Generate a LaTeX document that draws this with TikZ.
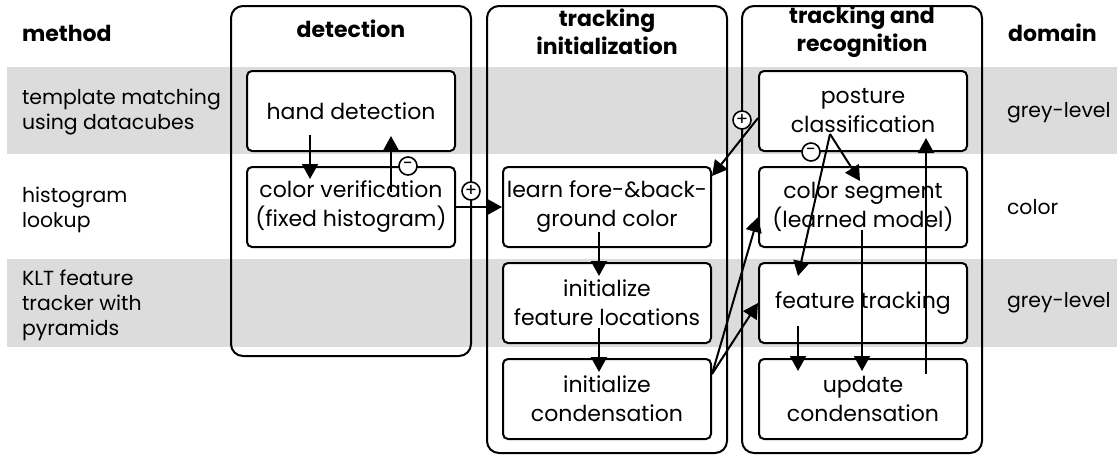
\documentclass[tikz,border=0pt]{standalone}
\usepackage{fontspec}
\setmainfont{Poppins}
\usetikzlibrary{arrows.meta}
\definecolor{bandgrey}{RGB}{220,220,220}

\tikzset{
    stage/.style={draw,line width=1pt,rounded corners=2.5pt,fill=white,
        minimum width=104pt,minimum height=40pt,inner sep=0pt,align=center,
        font=\fontsize{11}{14.5}\selectfont},
    column/.style={draw,line width=1pt,rounded corners=6pt},
    head/.style={align=center,font=\fontsize{11}{14}\selectfont\bfseries},
    side/.style={anchor=west,align=left,font=\fontsize{10.2}{12.5}\selectfont},
    sign/.style={circle,draw,fill=white,line width=0.8pt,inner sep=0pt,
        minimum size=9pt,font=\fontsize{9}{9}\selectfont},
    flow/.style={line width=1pt,-{Triangle[length=7.5pt,width=8pt]}},
}

\begin{document}
\begin{tikzpicture}[x=0.5pt,y=-0.5pt]
    \useasboundingbox (0,0) rectangle (1117,455);

    % Draw the grey bands
    \fill [bandgrey] (7,67) rectangle (1117,154);
    \fill [bandgrey] (7,259) rectangle (1117,347);

    % Draw the columns
    \draw [column] (231,6) rectangle (471,356);
    \draw [column] (487,6) rectangle (727,453);
    \draw [column] (742,6) rectangle (982,453);

    % Headers
    \node [head,anchor=west] (method) at (15,33) {method};
    \node [head] (detect) at (351,29) {detection};
    \node [head] (trinit) at (607,32) {tracking\\initialization};
    \node [head] (trrec) at (862,32) {tracking and\\recognition};
    \node [head,anchor=west] (domain) at (1001,33) {domain};

    % Methods and domains
    \node [side] (templ) at (15,112) {template matching\\using datacubes};
    \node [side] (histo) at (15,210) {histogram\\lookup};
    \node [side] (klt) at (15,305) {KLT feature\\tracker with\\pyramids};
    \node [side] (greya) at (1000,113) {grey-level};
    \node [side] (colr) at (1000,207) {color};
    \node [side] (greyb) at (1000,303) {grey-level};

    % Draw the stages
    \node [stage] (hand) at (351,111) {hand detection};
    \node [stage] (colver) at (351,207) {color verification\\(fixed histogram)};
    \node [stage] (learn) at (607,207) {learn fore-\&back-\\ground color};
    \node [stage] (initfeat) at (607,303) {initialize\\feature locations};
    \node [stage] (initcond) at (607,399) {initialize\\condensation};
    \node [stage] (posture) at (863,111) {posture\\classification};
    \node [stage] (colseg) at (863,207) {color segment\\(learned model)};
    \node [stage] (feattrack) at (863,303) {feature tracking};
    \node [stage] (updcond) at (863,399) {update\\condensation};

    % Draw the flow
    \draw [flow] ([shift={(-41,-17)}]hand.south) -- ([shift={(-41,13)}]colver.north);
    \draw [flow] ([shift={(40,26)}]colver.north) -- ([shift={(40,-16)}]hand.south);
    \draw [flow] (colver.east) -- (learn.west);
    \draw [flow] ([shift={(0,7)}]posture.west) -- ([shift={(0,10)}]learn.north east);
    \draw [flow] ([shift={(-33,-18)}]posture.south) -- ([shift={(-3,15)}]colseg.north);
    \draw [flow] ([shift={(-33,-18)}]posture.south) -- ([shift={(-65,14)}]feattrack.north);
    \draw [flow] ([shift={(-1,-18)}]colseg.south) -- ([shift={(-1,13)}]updcond.north);
    \draw [flow] ([shift={(-65,-18)}]feattrack.south) -- ([shift={(-65,13)}]updcond.north);
    \draw [flow] ([shift={(63,16)}]updcond.north) -- ([shift={(63,-14)}]posture.south);
    \draw [flow] ([shift={(0,16)}]initcond.north east) -- ([shift={(0,10)}]colseg.west);
    \draw [flow] ([shift={(0,16)}]initcond.north east) -- (feattrack.west);
    \draw [flow] ([shift={(-8,-16)}]learn.south) -- ([shift={(-8,14)}]initfeat.north);
    \draw [flow] ([shift={(-8,-16)}]initfeat.south) -- ([shift={(-8,14)}]initcond.north);

    % Signs
    \node [sign] (minusa) at ([shift={(57,0)}]colver.north) {-};
    \node [sign] (plusa) at (471,191) {+};
    \node [sign] (plusb) at (742,120) {+};
    \node [sign] (minusb) at ([shift={(-52,0)}]posture.south) {-};

\end{tikzpicture}
\end{document}
